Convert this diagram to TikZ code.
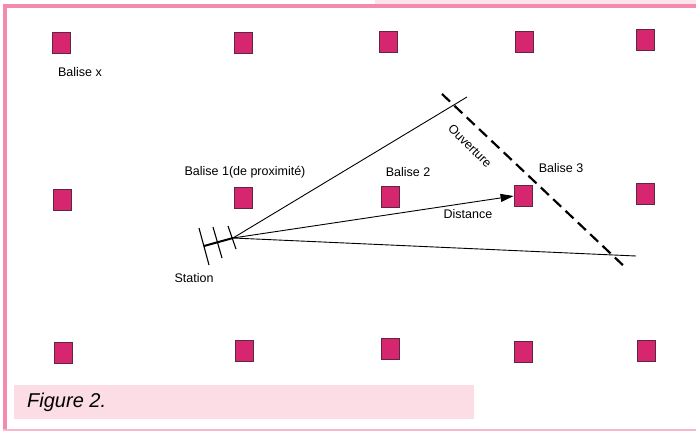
\documentclass[tikz,border=0pt]{standalone}
\usepackage{fontspec}
\setmainfont{Liberation Sans}
\usetikzlibrary{arrows.meta}
\definecolor{framepink}{RGB}{244,138,176}
\definecolor{bandpink}{RGB}{251,228,236}
\definecolor{botpink}{RGB}{247,184,206}
\definecolor{cappink}{RGB}{252,221,230}
\definecolor{balisefill}{RGB}{214,38,112}
\definecolor{baliseedge}{RGB}{95,40,62}
\tikzset{
  balise/.style={draw=baliseedge, fill=balisefill, line width=0.8pt, minimum width=18pt, minimum height=21pt, inner sep=0pt},
  lbl/.style={font=\fontsize{12.5}{14}\selectfont, inner sep=0pt},
  ray/.style={line width=0.9pt},
  tick/.style={line width=1.1pt},
}
\begin{document}
\begin{tikzpicture}[x=1pt,y=-1pt]
\useasboundingbox (0,0) rectangle (696,431);
% frame
\fill[bandpink] (375,0) rectangle (696,3.5);
\fill[framepink] (3,4) rectangle (696,7.5);
\fill[framepink] (3,4) rectangle (7,431);
\fill[botpink] (3,428.5) rectangle (696,431);
% caption
\fill[cappink] (14,385) rectangle (474,419);
\node[anchor=west, inner sep=0pt, font=\fontsize{20}{22}\selectfont\itshape] (cap) at (27,402) {Figure 2.};
% balises
\node[balise] (a1) at (61,43) {};
\node[balise] (a2) at (243,43) {};
\node[balise] (a3) at (388,42) {};
\node[balise] (a4) at (524,42) {};
\node[balise] (a5) at (645,40) {};
\node[balise] (b1) at (62,200) {};
\node[balise] (b2) at (243,198) {};
\node[balise] (b3) at (390,197) {};
\node[balise] (b4) at (523,196) {};
\node[balise] (b5) at (645,194) {};
\node[balise] (c1) at (63,353) {};
\node[balise] (c2) at (244,351) {};
\node[balise] (c3) at (390,349) {};
\node[balise] (c4) at (523,352) {};
\node[balise] (c5) at (646,351) {};
% labels
\node[lbl] (lx) at (80,72) {Balise x};
\node[lbl] (l1) at (245,172) {Balise 1(de proximité)};
\node[lbl] (l2) at (408,172) {Balise 2};
\node[lbl] (l3) at (561,168) {Balise 3};
\node[lbl] (ls) at (194,278) {Station};
\node[lbl] (ld) at (468,214) {Distance};
\node[lbl, rotate=-45] (lo) at (470,146) {Ouverture};
% station antenna
\coordinate (apex) at (233,238);
\coordinate (aback) at (204,246);
\draw[line width=2pt] (aback) -- (apex);
\coordinate (t1a) at (199,228); \coordinate (t1b) at (209,265);
\coordinate (t2a) at (213,227); \coordinate (t2b) at (222,258);
\coordinate (t3a) at (228,226); \coordinate (t3b) at (236,249);
\draw[tick] (t1a) -- (t1b);
\draw[tick] (t2a) -- (t2b);
\draw[tick] (t3a) -- (t3b);
% rays
\coordinate (up) at (467,97);
\coordinate (low) at (636,256);
\coordinate (dstart) at (442,94);
\coordinate (dend) at (627,269);
\draw[ray] (apex) -- (up);
\draw[ray] (apex) -- (low);
\draw[ray, -{Triangle[length=13pt,width=8pt]}] (apex) -- (b4.west);
\draw[line width=2.2pt, dash pattern=on 11pt off 6pt] (dstart) -- (dend);
\end{tikzpicture}
\end{document}
